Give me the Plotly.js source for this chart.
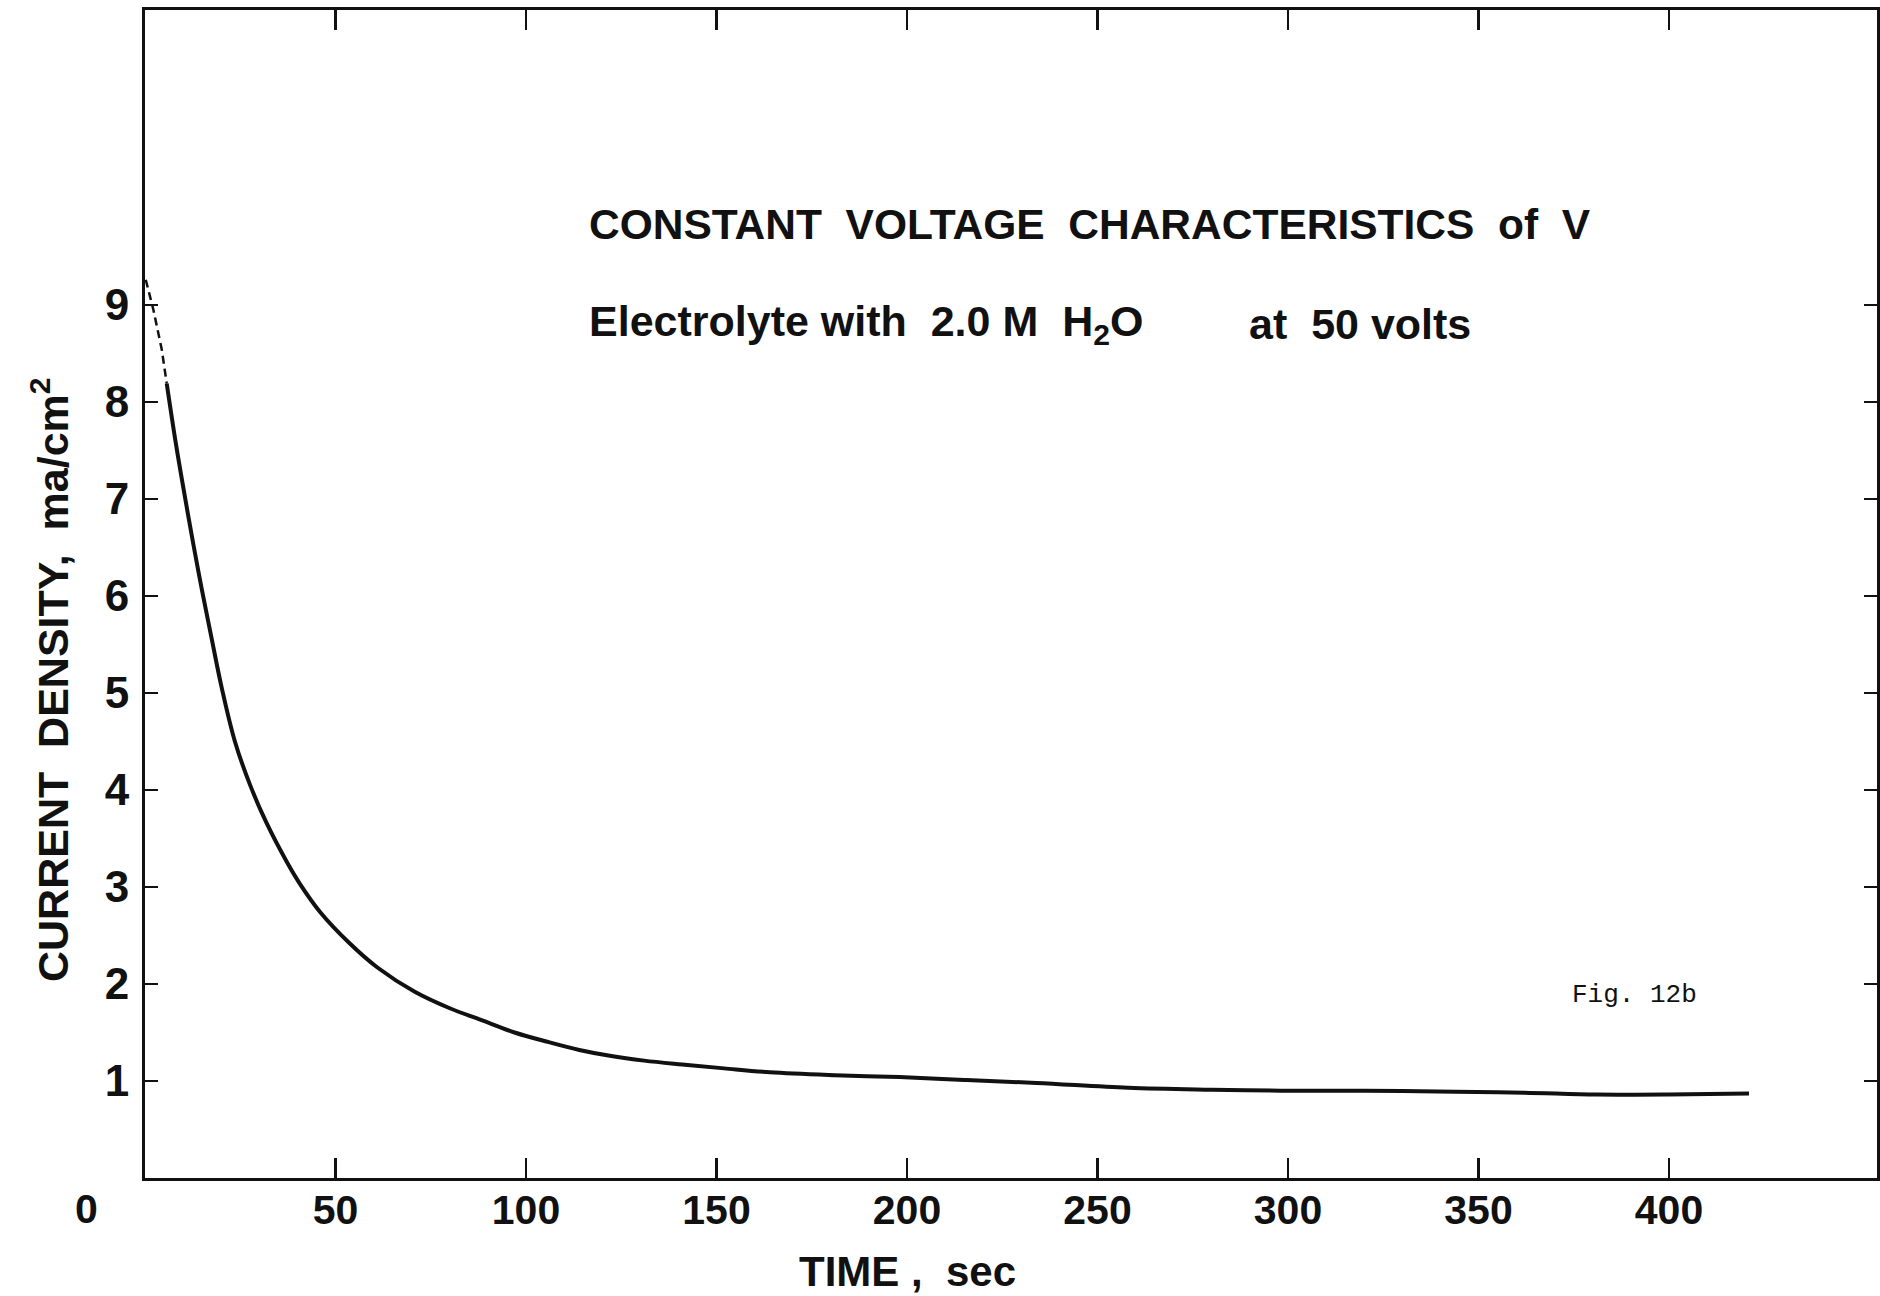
<!DOCTYPE html>
<html>
<head>
<meta charset="utf-8">
<script src="https://cdn.plot.ly/plotly-3.0.1.min.js"></script>
<style>
  html, body { margin: 0; padding: 0; background: #ffffff; }
  #chart { width: 1880px; height: 1296px; }
</style>
</head>
<body>
<div id="chart"></div>
<script>
// Extrapolated (dashed) start of the curve
const timeDashed = [0.2, 2.2, 4.4, 5.7];
const currentDashed = [9.26, 8.95, 8.54, 8.19];

// Measured curve (solid)
const timeSec = [5.7, 7.9, 9.6, 12.7, 14.9, 17.5, 20.1, 23.6, 27.6, 31.9, 37.2, 40.7, 46, 53.7, 61, 70.8, 80, 88.9, 97, 106, 114, 122, 131, 141, 152, 164, 181, 198, 215, 234, 258, 280, 298, 320, 344, 362, 381, 400, 421];
const currentDensity = [8.19, 7.62, 7.22, 6.53, 6.07, 5.56, 5.06, 4.5, 4.05, 3.66, 3.26, 3.03, 2.74, 2.42, 2.17, 1.92, 1.75, 1.62, 1.50, 1.40, 1.32, 1.26, 1.21, 1.17, 1.13, 1.09, 1.06, 1.04, 1.01, 0.98, 0.93, 0.91, 0.90, 0.90, 0.89, 0.88, 0.86, 0.86, 0.87];

// Tick labels
const xTickVals = [50, 100, 150, 200, 250, 300, 350, 400];
const xTickText = ['50', '100', '150', '200', '250', '300', '350', '400'];
const yTickVals = [1, 2, 3, 4, 5, 6, 7, 8, 9];
const yTickText = ['1', '2', '3', '4', '5', '6', '7', '8', '9'];

// Texts
const titleLine1 = 'CONSTANT\u00a0\u00a0VOLTAGE\u00a0\u00a0CHARACTERISTICS\u00a0\u00a0of\u00a0\u00a0V';
const titleLine2a = 'Electrolyte\u00a0with\u00a0\u00a02.0\u00a0M\u00a0\u00a0H<sub>2</sub>O';
const titleLine2b = 'at\u00a0\u00a050\u00a0volts';
const figLabel = 'Fig.\u00a012b';
const xTitle = 'TIME\u00a0, \u00a0sec';
const yTitle = 'CURRENT\u00a0\u00a0DENSITY,\u00a0\u00a0ma/cm<sup>2</sup>';
const originLabel = '0';

const INK = '#111111';
const SANS = '"Liberation Sans", Arial, sans-serif';
const MONO = '"Liberation Mono", "DejaVu Sans Mono", monospace';

const W = 1880, H = 1296;
const M = {l: 145, r: 3, t: 10, b: 118};
const PW = W - M.l - M.r, PH = H - M.t - M.b;
const px = x => (x - M.l) / PW;
const py = y => (H - M.b - y) / PH;

const traces = [
  {
    x: timeDashed, y: currentDashed, type: 'scatter', mode: 'lines',
    line: {color: INK, width: 2.5, dash: '8px,5px'},
    hoverinfo: 'skip', showlegend: false
  },
  {
    x: timeSec, y: currentDensity, type: 'scatter', mode: 'lines',
    line: {color: INK, width: 4, shape: 'spline', smoothing: 1},
    showlegend: false
  }
];

const boldFont = (size) => ({family: SANS, size: size, color: INK, weight: 'bold'});

const layout = {
  width: W, height: H,
  margin: M,
  paper_bgcolor: '#ffffff', plot_bgcolor: '#ffffff',
  showlegend: false,
  xaxis: {
    range: [0, 454.6], tickvals: xTickVals, ticktext: xTickText,
    ticks: 'inside', ticklen: 20, tickwidth: 2.5, tickcolor: INK,
    showline: true, linewidth: 3, linecolor: INK, mirror: 'ticks',
    showgrid: false, zeroline: false, tickfont: boldFont(41),
    ticklabelstandoff: -6, fixedrange: true
  },
  yaxis: {
    range: [0, 12.04], tickvals: yTickVals, ticktext: yTickText,
    ticks: 'inside', ticklen: 13, tickwidth: 2.5, tickcolor: INK,
    showline: true, linewidth: 3, linecolor: INK, mirror: 'ticks',
    showgrid: false, zeroline: false, tickfont: boldFont(44),
    ticklabelstandoff: 4, fixedrange: true
  },
  annotations: [
    {text: titleLine1, xref: 'paper', yref: 'paper', x: px(587), y: py(224), xanchor: 'left', yanchor: 'middle', showarrow: false, font: boldFont(42.5)},
    {text: titleLine2a, xref: 'paper', yref: 'paper', x: px(587), y: py(324), xanchor: 'left', yanchor: 'middle', showarrow: false, font: boldFont(43)},
    {text: titleLine2b, xref: 'paper', yref: 'paper', x: px(1247), y: py(324), xanchor: 'left', yanchor: 'middle', showarrow: false, font: boldFont(43)},
    {text: figLabel, xref: 'paper', yref: 'paper', x: px(1570), y: py(995), xanchor: 'left', yanchor: 'middle', showarrow: false, font: {family: MONO, size: 26, color: INK}},
    {text: originLabel, xref: 'paper', yref: 'paper', x: px(86), y: py(1209), xanchor: 'center', yanchor: 'middle', showarrow: false, font: boldFont(41)},
    {text: xTitle, xref: 'paper', yref: 'paper', x: px(907), y: py(1271), xanchor: 'center', yanchor: 'middle', showarrow: false, font: boldFont(42)},
    {text: yTitle, xref: 'paper', yref: 'paper', x: px(50), y: py(680), xanchor: 'center', yanchor: 'middle', textangle: -90, showarrow: false, font: boldFont(43)}
  ]
};

Plotly.newPlot('chart', traces, layout, {displayModeBar: false, staticPlot: true});
</script>
</body>
</html>
